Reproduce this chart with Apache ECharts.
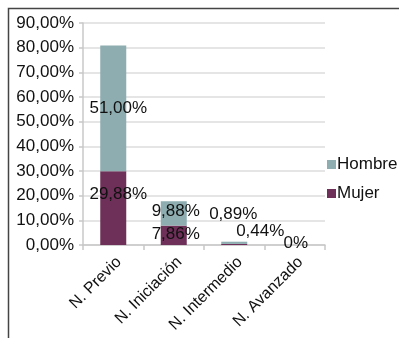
<!DOCTYPE html>
<html>
<head>
<meta charset="utf-8">
<script src="https://cdn.jsdelivr.net/npm/echarts@6/dist/echarts.min.js"></script>
<style>
  html, body { margin: 0; padding: 0; background: #fff; }
  #chart { width: 399px; height: 338px; }
</style>
</head>
<body>
<div id="chart"></div>
<script>
// niveles y porcentajes
var categories = ['N. Previo', 'N. Iniciación', 'N. Intermedio', 'N. Avanzado'];
var hombre = [51.00, 9.88, 0.89, 0];
var mujer = [29.88, 7.86, 0.44, 0];
var yTicks = [0, 10, 20, 30, 40, 50, 60, 70, 80, 90];

var FONT = '"Liberation Sans", Arial, sans-serif';

function pct(v) {
    if (v === 0) return '0%';
    return v.toFixed(2).replace('.', ',') + '%';
}

// desplazamientos de etiquetas como en el original (Excel las mueve)
var hombreOffsets = [[5, 0], [2, -2], [-1, -29], [1, -2]];
var mujerOffsets = [[5, -14], [2, -1], [26, -13], null];

function buildData(values, offsets) {
    return values.map(function (v, i) {
        var item = { value: v };
        if (offsets[i]) {
            item.label = { offset: offsets[i] };
        } else {
            item.label = { show: false };
        }
        return item;
    });
}

var labelStyle = {
    show: true,
    position: 'inside',
    color: '#111',
    fontSize: 17,
    fontFamily: FONT,
    formatter: function (p) { return pct(p.value); }
};

var chart = echarts.init(document.getElementById('chart'));
chart.setOption({
    animation: false,
    textStyle: { fontFamily: FONT },
    graphic: [{
        type: 'rect',
        shape: { x: 8.5, y: 8.5, width: 600, height: 600 },
        style: { fill: 'none', stroke: '#444', lineWidth: 1.5 },
        silent: true
    }],
    grid: { left: 83, right: 74, top: 23, bottom: 93, containLabel: false },
    legend: {
        orient: 'vertical',
        left: 322,
        top: 151,
        itemWidth: 9,
        itemHeight: 9,
        itemGap: 12,
        icon: 'rect',
        data: ['Hombre', 'Mujer'],
        textStyle: { fontSize: 17, color: '#111', fontFamily: FONT, padding: [0, 0, 0, -4] }
    },
    xAxis: {
        type: 'category',
        data: categories,
        axisLine: { lineStyle: { color: '#c8c8c8', width: 1.5 } },
        axisTick: { show: true, length: 5, lineStyle: { color: '#c8c8c8', width: 1.5 } },
        axisLabel: {
            rotate: 45,
            interval: 0,
            margin: 9,
            verticalAlign: 'top',
            fontSize: 16,
            color: '#111',
            fontFamily: FONT
        }
    },
    yAxis: {
        type: 'value',
        min: yTicks[0],
        max: yTicks[yTicks.length - 1],
        interval: 10,
        axisLine: { show: true, lineStyle: { color: '#c8c8c8', width: 1.5 } },
        axisTick: { show: true, length: 4, lineStyle: { color: '#c8c8c8', width: 1.5 } },
        splitLine: { lineStyle: { color: '#dcdcdc', width: 1.5 } },
        axisLabel: {
            margin: 9,
            fontSize: 17,
            color: '#111',
            fontFamily: FONT,
            formatter: function (v) { return v.toFixed(2).replace('.', ',') + '%'; }
        }
    },
    series: [
        {
            name: 'Mujer',
            type: 'bar',
            stack: 'total',
            barWidth: 26,
            itemStyle: { color: '#6e3059' },
            label: labelStyle,
            data: buildData(mujer, mujerOffsets)
        },
        {
            name: 'Hombre',
            type: 'bar',
            stack: 'total',
            barWidth: 26,
            itemStyle: { color: '#8eadb0' },
            label: labelStyle,
            data: buildData(hombre, hombreOffsets)
        }
    ]
});
</script>
</body>
</html>
